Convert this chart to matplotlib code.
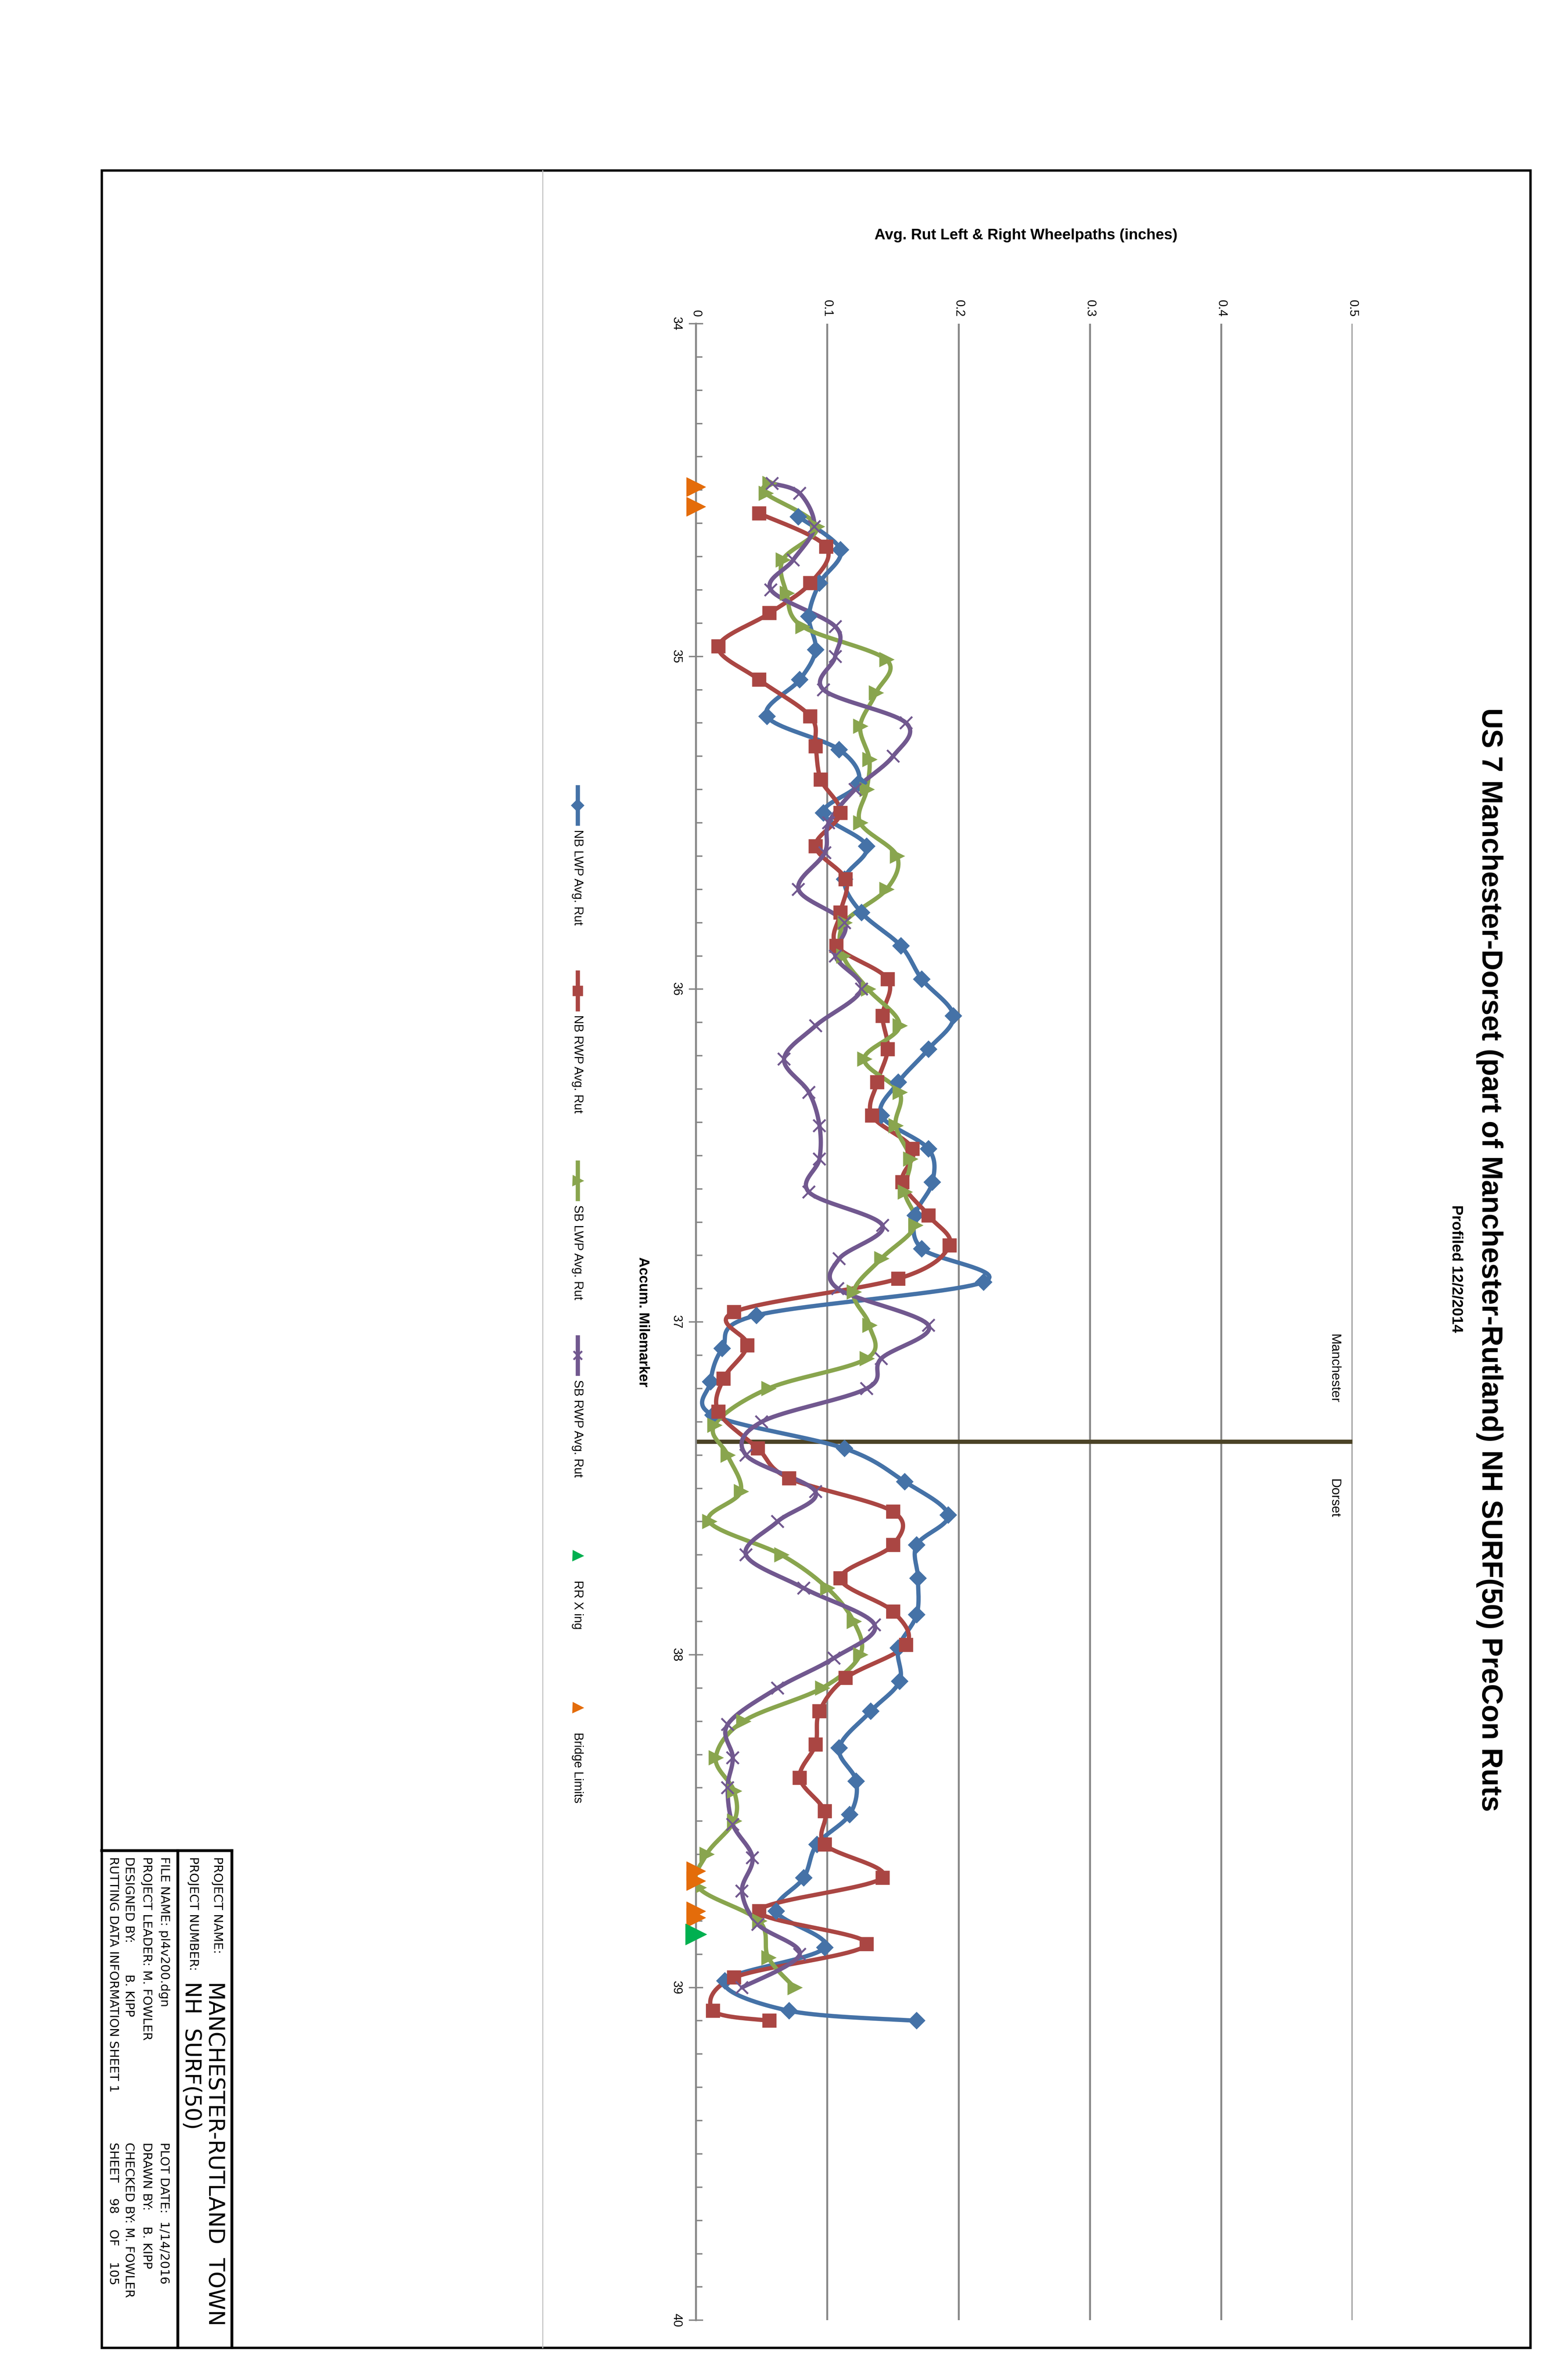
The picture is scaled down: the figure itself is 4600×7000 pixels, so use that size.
import numpy as np
import matplotlib
matplotlib.use("Agg")
import matplotlib.pyplot as plt
from matplotlib.lines import Line2D
from matplotlib.patches import Rectangle

plt.rcParams['font.family'] = ['Liberation Sans', 'DejaVu Sans']

# ---------------- data ----------------
nb_lwp_mile = [34.58, 34.68, 34.78, 34.88, 34.98, 35.07, 35.18, 35.28, 35.38, 35.47, 35.57, 35.67, 35.77, 35.87, 35.97,
               36.08, 36.18, 36.28, 36.38, 36.48, 36.58, 36.68, 36.78, 36.88, 36.98, 37.08, 37.18, 37.28, 37.38, 37.48, 37.58,
               37.67, 37.77, 37.88, 37.98, 38.08, 38.17, 38.28, 38.38, 38.48, 38.57, 38.67, 38.77, 38.88, 38.98, 39.07, 39.10]
nb_lwp_rut = [0.078, 0.110, 0.094, 0.086, 0.091, 0.079, 0.054, 0.109, 0.124, 0.097, 0.130, 0.113, 0.126, 0.156, 0.172,
              0.196, 0.177, 0.154, 0.141, 0.177, 0.180, 0.167, 0.172, 0.219, 0.046, 0.020, 0.011, 0.013, 0.113, 0.159, 0.192,
              0.168, 0.169, 0.168, 0.154, 0.155, 0.133, 0.109, 0.122, 0.117, 0.092, 0.082, 0.061, 0.098, 0.022, 0.071, 0.168]

nb_rwp_mile = [34.57, 34.67, 34.78, 34.87, 34.97, 35.07, 35.18, 35.27, 35.37, 35.47, 35.57, 35.67, 35.77, 35.87, 35.97,
               36.08, 36.18, 36.28, 36.38, 36.48, 36.58, 36.68, 36.77, 36.87, 36.97, 37.07, 37.17, 37.27, 37.38, 37.47, 37.57,
               37.67, 37.77, 37.87, 37.97, 38.07, 38.17, 38.27, 38.37, 38.47, 38.57, 38.67, 38.77, 38.87, 38.97, 39.07, 39.10]
nb_rwp_rut = [0.048, 0.099, 0.087, 0.056, 0.017, 0.048, 0.087, 0.091, 0.095, 0.110, 0.091, 0.114, 0.110, 0.107, 0.146,
              0.142, 0.146, 0.138, 0.134, 0.165, 0.157, 0.177, 0.193, 0.154, 0.029, 0.039, 0.021, 0.017, 0.047, 0.071, 0.150,
              0.150, 0.110, 0.150, 0.160, 0.114, 0.094, 0.091, 0.079, 0.098, 0.098, 0.142, 0.048, 0.130, 0.029, 0.013, 0.056]

sb_lwp_mile = [34.48, 34.51, 34.61, 34.71, 34.81, 34.91, 35.01, 35.11, 35.21, 35.31, 35.40, 35.50, 35.60, 35.70, 35.80, 35.90,
               36.00, 36.11, 36.21, 36.31, 36.41, 36.51, 36.61, 36.71, 36.81, 36.91, 37.01, 37.11, 37.20, 37.31, 37.40, 37.51,
               37.60, 37.70, 37.80, 37.90, 38.00, 38.10, 38.20, 38.31, 38.41, 38.50, 38.60, 38.70, 38.80, 38.91, 39.00]
sb_lwp_rut = [0.056, 0.053, 0.092, 0.066, 0.069, 0.081, 0.145, 0.137, 0.125, 0.132, 0.130, 0.125, 0.153, 0.145, 0.113, 0.112,
              0.131, 0.155, 0.128, 0.155, 0.152, 0.163, 0.159, 0.167, 0.141, 0.120, 0.132, 0.130, 0.055, 0.014, 0.024, 0.034,
              0.010, 0.065, 0.100, 0.120, 0.125, 0.096, 0.036, 0.015, 0.029, 0.029, 0.008, 0.002, 0.048, 0.055, 0.075]

sb_rwp_mile = [34.48, 34.51, 34.61, 34.71, 34.80, 34.91, 35.00, 35.10, 35.20, 35.30, 35.40, 35.50, 35.59, 35.70, 35.80, 35.90,
               36.00, 36.11, 36.21, 36.31, 36.41, 36.51, 36.61, 36.71, 36.81, 36.90, 37.01, 37.11, 37.20, 37.30, 37.40, 37.51,
               37.60, 37.70, 37.80, 37.91, 38.01, 38.10, 38.21, 38.31, 38.40, 38.51, 38.61, 38.71, 38.81, 38.90, 39.00]
sb_rwp_rut = [0.058, 0.079, 0.090, 0.074, 0.057, 0.106, 0.106, 0.097, 0.160, 0.150, 0.121, 0.101, 0.098, 0.078, 0.113, 0.106,
              0.126, 0.091, 0.067, 0.086, 0.094, 0.094, 0.086, 0.142, 0.109, 0.108, 0.177, 0.141, 0.130, 0.050, 0.038, 0.091,
              0.062, 0.038, 0.082, 0.136, 0.105, 0.062, 0.024, 0.028, 0.024, 0.028, 0.043, 0.035, 0.047, 0.079, 0.035]

rr_xing_mile = [38.84]
rr_xing_rut = [0.0]
bridge_mile = [34.49, 34.55, 38.65, 38.68, 38.77, 38.79]
bridge_rut = [0.0, 0.0, 0.0, 0.0, 0.0, 0.0]

town_line_mile = 37.36
rut_ticks = [0, 0.1, 0.2, 0.3, 0.4, 0.5]
rut_tick_labels = ['0', '0.1', '0.2', '0.3', '0.4', '0.5']
mile_ticks = [34, 35, 36, 37, 38, 39, 40]

series = [
    ("NB LWP Avg. Rut", nb_lwp_mile, nb_lwp_rut, '#4572A7', 'D', 22),
    ("NB RWP Avg. Rut", nb_rwp_mile, nb_rwp_rut, '#AA4643', 's', 26),
    ("SB LWP Avg. Rut", sb_lwp_mile, sb_lwp_rut, '#89A54E', '>', 26),
    ("SB RWP Avg. Rut", sb_rwp_mile, sb_rwp_rut, '#71588F', 'x', 26),
]


def smooth(xs, ys, n=20):
    p = np.column_stack([xs, ys]).astype(float)
    p = np.vstack([p[0], p, p[-1]])
    out = []
    t = np.linspace(0, 1, n, endpoint=False)[:, None]
    for i in range(1, len(p) - 2):
        p0, p1, p2, p3 = p[i - 1], p[i], p[i + 1], p[i + 2]
        seg = 0.5 * ((2 * p1) + (-p0 + p2) * t + (2 * p0 - 5 * p1 + 4 * p2 - p3) * t ** 2
                     + (-p0 + 3 * p1 - 3 * p2 + p3) * t ** 3)
        out.append(seg)
    out.append(p[-2][None, :])
    a = np.vstack(out)
    return a[:, 0], a[:, 1]


# reference display px -> figure fraction
W, H = 1029.1, 1566.3
def F(x, y):
    return x / W, 1 - y / H

fig = plt.figure(figsize=(46, 70), dpi=100)

# frames
x0, y0 = F(67, 1545)
x1, y1 = F(1007, 112)
fig.patches.append(Rectangle((x0, y0), x1 - x0, y1 - y0, transform=fig.transFigure,
                             fill=False, lw=5, ec='black'))
fig.lines.append(Line2D([F(357, 0)[0]] * 2, [F(0, 112)[1], F(0, 1545)[1]], transform=fig.transFigure,
                        color='#bfbfbf', lw=2))
# title block lines
for xv in (117, 152.5):
    fig.lines.append(Line2D([F(xv, 0)[0]] * 2, [F(0, 1218)[1], F(0, 1545)[1]], transform=fig.transFigure,
                            color='black', lw=6))
fig.lines.append(Line2D([F(67, 0)[0], F(152.5, 0)[0]], [F(0, 1218)[1]] * 2, transform=fig.transFigure,
                        color='black', lw=6))

# axes
ax0 = F(458, 1527)
ax1 = F(890, 213)
ax = fig.add_axes([ax0[0], ax0[1], ax1[0] - ax0[0], ax1[1] - ax0[1]])
ax.set_xlim(0, 0.5)
ax.set_ylim(40, 34)
for s in ('top', 'right', 'bottom'):
    ax.spines[s].set_visible(False)
ax.spines['left'].set_color('#868686')
ax.spines['left'].set_linewidth(4)
ax.xaxis.tick_top()
ax.set_xticks(rut_ticks)
ax.set_xticklabels(rut_tick_labels, rotation=-90, fontsize=26)
ax.tick_params(axis='x', length=0, pad=14)
ax.set_yticks(mile_ticks)
ax.set_yticklabels([str(m) for m in mile_ticks], rotation=-90, fontsize=26, va='center')
ax.set_yticks(np.arange(34, 40.01, 0.1), minor=True)
ax.tick_params(axis='y', which='major', direction='inout', length=30, width=3, color='#868686', pad=14)
ax.tick_params(axis='y', which='minor', direction='in', length=14, width=3, color='#868686')
for g in rut_ticks[1:]:
    ax.axvline(g, color='#868686', lw=4, zorder=0)

ax.plot([0, 0.5], [town_line_mile, town_line_mile], color='#4B4326', lw=9, zorder=1, solid_capstyle='butt')

for name, m, r, c, mk, ms in series:
    sx, sy = smooth(r, m)
    ax.plot(sx, sy, color=c, lw=9, zorder=3, solid_capstyle='round')
    ax.plot(r, m, linestyle='none', marker=mk, color=c, markersize=ms, mew=4, zorder=4)
ax.plot(bridge_rut, bridge_mile, linestyle='none', marker='>', color='#E46C0A', markersize=40, clip_on=False, zorder=5)
ax.plot(rr_xing_rut, rr_xing_mile, linestyle='none', marker='>', color='#00B050', markersize=44, clip_on=False, zorder=5)

ax.text(0.486, 37.14, 'Manchester', rotation=-90, ha='center', va='center', fontsize=28)
ax.text(0.486, 37.53, 'Dorset', rotation=-90, ha='center', va='center', fontsize=28)

# titles
fig.text(*F(980, 829), 'US 7 Manchester-Dorset (part of Manchester-Rutland) NH SURF(50) PreCon Ruts',
         rotation=-90, ha='center', va='center', fontsize=61, fontweight='bold')
fig.text(*F(958, 835), 'Profiled 12/2/2014', rotation=-90, ha='center', va='center', fontsize=32, fontweight='bold')
fig.text(*F(675, 155), 'Avg. Rut Left & Right Wheelpaths (inches)', ha='center', va='center',
         fontsize=32, fontweight='bold')
fig.text(*F(423, 870), 'Accum. Milemarker', rotation=-90, ha='center', va='center', fontsize=30, fontweight='bold')

# legend (rotated)
leg = [("NB LWP Avg. Rut", '#4572A7', 'D', 518, 16, True),
       ("NB RWP Avg. Rut", '#AA4643', 's', 640, 18, True),
       ("SB LWP Avg. Rut", '#89A54E', '>', 765, 18, True),
       ("SB RWP Avg. Rut", '#71588F', 'x', 880, 18, True),
       ("RR X ing", '#00B050', '>', 1012, 18, False),
       ("Bridge Limits", '#E46C0A', '>', 1112, 18, False)]
lx = 380
for name, c, mk, ys, ms, line in leg:
    if line:
        fig.lines.append(Line2D([F(lx, 0)[0]] * 2, [F(0, ys)[1], F(0, ys + 24)[1]], transform=fig.transFigure,
                                color=c, lw=9))
    fig.lines.append(Line2D([F(lx, 0)[0]], [F(0, ys + 12)[1]], transform=fig.transFigure, color=c,
                            marker=mk, markersize=ms, mew=4, linestyle='none'))
    fig.text(*F(lx, ys + 28), name, rotation=-90, ha='center', va='top', fontsize=26)

# title block text
tb = ['Liberation Sans Narrow', 'DejaVu Sans']
small = 26
def tbt(x, y, s, fs=small):
    fig.text(*F(x, y), s, rotation=-90, ha='center', va='top', fontsize=fs, family=tb)

tbt(143, 1222, 'PROJECT NAME:')
tbt(141.5, 1304, 'MANCHESTER-RUTLAND  TOWN', 46)
tbt(127, 1222, 'PROJECT NUMBER:')
tbt(126, 1304, 'NH  SURF(50)', 46)
tbt(108, 1222, 'FILE NAME: pl4v200.dgn')
tbt(108, 1410, 'PLOT DATE:  1/14/2016')
tbt(96.5, 1222, 'PROJECT LEADER: M. FOWLER')
tbt(96.5, 1410, 'DRAWN BY:    B. KIPP')
tbt(85, 1222, 'DESIGNED BY:        B. KIPP')
tbt(85, 1410, 'CHECKED BY: M. FOWLER')
tbt(74.6, 1222, 'RUTTING DATA INFORMATION SHEET 1')
tbt(74.6, 1410, 'SHEET    98    OF    105')

fig.savefig('out.png', dpi=100)
